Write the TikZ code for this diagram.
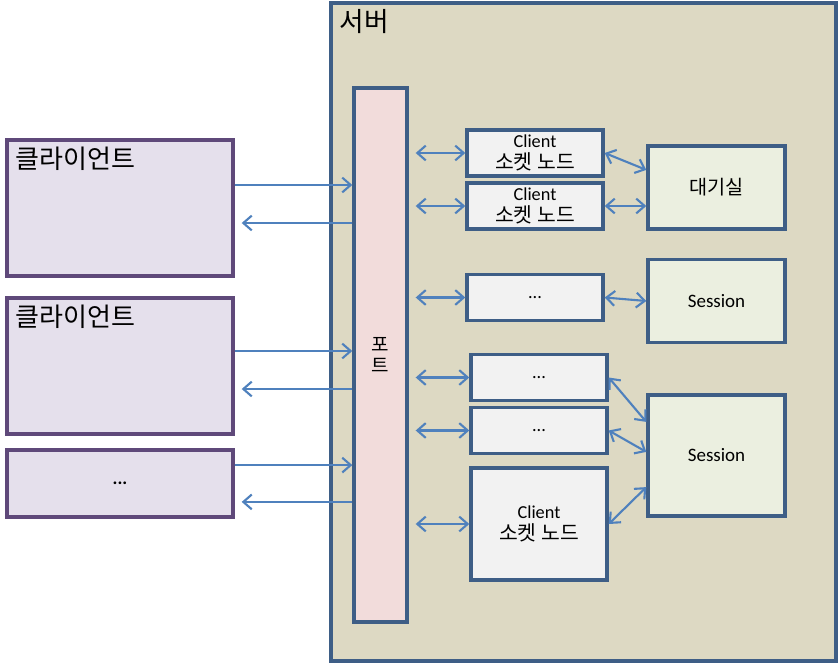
\documentclass[tikz,border=0pt]{standalone}
\usepackage{fontspec}
\setmainfont{Carlito}
\newfontfamily\kr{Noto Sans CJK KR}
\usetikzlibrary{arrows.meta,positioning,calc}

\definecolor{srvfill}{RGB}{221,217,195}
\definecolor{srvline}{RGB}{62,94,134}
\definecolor{portfill}{RGB}{242,220,219}
\definecolor{clifill}{RGB}{229,224,236}
\definecolor{cliline}{RGB}{95,73,122}
\definecolor{sockfill}{RGB}{242,242,242}
\definecolor{roomfill}{RGB}{235,239,224}
\definecolor{arrowblue}{RGB}{79,129,189}

\begin{document}
\begin{tikzpicture}[x=0.025cm, y=-0.025cm, >={Straight Barb[length=6pt,width=10.5pt]}]

    \tikzstyle{server}  = [rectangle, draw=srvline, fill=srvfill, line width=2.4pt]
    \tikzstyle{port}    = [rectangle, draw=srvline, fill=portfill, line width=2.4pt, font=\kr\fontsize{13.5}{15}\selectfont, align=center]
    \tikzstyle{client}  = [rectangle, draw=cliline, fill=clifill, line width=2.4pt, minimum width=5.65cm]
    \tikzstyle{sock}    = [rectangle, draw=srvline, fill=sockfill, line width=2.4pt, minimum width=3.4cm, minimum height=1.15cm, align=center, font=\fontsize{13}{16}\selectfont]
    \tikzstyle{room}    = [rectangle, draw=srvline, fill=roomfill, line width=2.4pt, minimum width=3.425cm, minimum height=2.075cm, font=\fontsize{13.5}{15}\selectfont]
    \tikzstyle{link}    = [arrowblue, line width=1.5pt]

    \fill[white] (0,0) rectangle (840,664);
    \useasboundingbox (0,0) rectangle (840,664);

    % server and port
    \node (server)   [server, minimum width=12.625cm, minimum height=16.45cm] at (583.5,332) {};
    \node (srvtext)  [anchor=north west, inner sep=0pt, font=\kr\fontsize{19}{22}\selectfont] at ([xshift=0.25cm, yshift=-0.2cm]server.north west) {서버};
    \node (port)     [port, minimum width=1.325cm, minimum height=13.35cm] at (380.5,355) {포\\트};

    % clients
    \node (cli1)     [client, minimum height=3.4cm] at (120,208) {};
    \node (cli1text) [anchor=north west, inner sep=0pt, font=\kr\fontsize{18.5}{20}\selectfont] at ([xshift=0.25cm, yshift=-0.2cm]cli1.north west) {클라이언트};
    \node (cli2)     [client, minimum height=3.4cm] at (120,366) {};
    \node (cli2text) [anchor=north west, inner sep=0pt, font=\kr\fontsize{18.5}{20}\selectfont] at ([xshift=0.25cm, yshift=-0.2cm]cli2.north west) {클라이언트};
    \node (cli3)     [client, minimum height=1.675cm, font=\bfseries\fontsize{13}{14}\selectfont] at (120,483.5) {...};

    % socket nodes
    \node (sock1)    [sock] at (535,153)   {Client\\{\kr\fontsize{14.5}{16}\selectfont 소켓 노드}};
    \node (sock2)    [sock] at (535,206)   {Client\\{\kr\fontsize{14.5}{16}\selectfont 소켓 노드}};
    \node (sock3)    [sock] at (535,297.5) {...};
    \node (sock4)    [sock] at (539,377.5) {...};
    \node (sock5)    [sock] at (539,430.5) {...};
    \node (sock6)    [sock, minimum height=2.8cm] at (539,524) {Client\\{\kr\fontsize{14.5}{16}\selectfont 소켓 노드}};

    % rooms
    \node (lobby)    [room, font=\kr\fontsize{14}{15}\selectfont] at (716.5,187.5) {대기실};
    \node (sess1)    [room] at (716.5,301) {Session};
    \node (sess2)    [room, minimum height=3.025cm] at (716.5,455.5) {Session};

    % client <-> port
    \draw[->, link]  ([yshift=0.575cm]cli1.east) -- ([yshift=0.575cm]cli1.east -| port.west);
    \draw[->, link, shorten >=0.175cm]  ([yshift=-0.375cm]cli1.east -| port.west) -- ([yshift=-0.375cm]cli1.east);
    \draw[->, link]  ([yshift=0.375cm]cli2.east) -- ([yshift=0.375cm]cli2.east -| port.west);
    \draw[->, link, shorten >=0.175cm]  ([yshift=-0.575cm]cli2.east -| port.west) -- ([yshift=-0.575cm]cli2.east);
    \draw[->, link]  ([yshift=0.46cm]cli3.east) -- ([yshift=0.46cm]cli3.east -| port.west);
    \draw[->, link, shorten >=0.175cm]  ([yshift=-0.46cm]cli3.east -| port.west) -- ([yshift=-0.46cm]cli3.east);

    % port <-> sockets
    \foreach \s in {sock1,sock2,sock3,sock4,sock5,sock6}
        \draw[<->, link, shorten <=0.175cm]  (port.east |- \s.west) -- (\s.west);

    % sockets <-> rooms
    \draw[<->, link]  (sock1.east) -- ([yshift=0.44cm]lobby.west);
    \draw[<->, link]  (sock2.east) -- (lobby.west |- sock2.east);
    \draw[<->, link]  (sock3.east) -- (sess1.west);
    \draw[<->, link]  (sock4.east) -- ([yshift=0.84cm]sess2.west);
    \draw[<->, link]  (sock5.east) -- ([yshift=0.09cm]sess2.west);
    \draw[<->, link]  (sock6.east) -- ([yshift=-0.79cm]sess2.west);
\end{tikzpicture}
\end{document}
